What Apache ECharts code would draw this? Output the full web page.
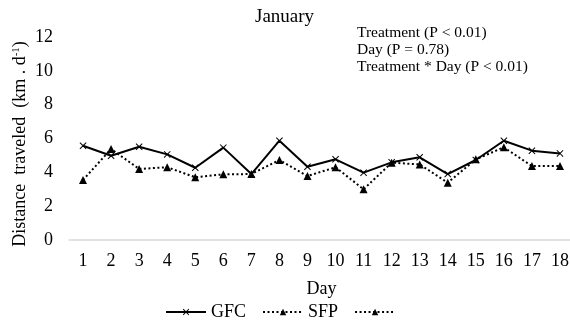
<!DOCTYPE html>
<html>
<head>
<meta charset="utf-8">
<script src="https://cdn.jsdelivr.net/npm/echarts@6/dist/echarts.min.js"></script>
<style>
  html, body { margin: 0; padding: 0; background: #fff; }
  #chart { width: 570px; height: 332px; }
</style>
</head>
<body>
<div id="chart"></div>
<script>
// Daily distance traveled in January, two treatments
const days = ['1','2','3','4','5','6','7','8','9','10','11','12','13','14','15','16','17','18'];
const gfc = [5.57, 4.98, 5.51, 5.06, 4.27, 5.46, 3.90, 5.87, 4.33, 4.77, 3.98, 4.59, 4.89, 3.90, 4.73, 5.87, 5.28, 5.12];
const sfp = [3.55, 5.38, 4.20, 4.30, 3.71, 3.88, 3.90, 4.73, 3.78, 4.30, 3.00, 4.57, 4.47, 3.39, 4.77, 5.48, 4.37, 4.37];
const yTicks = { min: 0, max: 12, interval: 2 };
const statLines = ['Treatment (P < 0.01)', 'Day (P = 0.78)', 'Treatment * Day (P < 0.01)'];

const FONT = '"Liberation Serif", "Times New Roman", serif';
const crossPath = 'path://M1,0 L5,4 L9,0 L10,1 L6,5 L10,9 L9,10 L5,6 L1,10 L0,9 L4,5 L0,1 Z';
const dotted = [2, 2.5];

const chart = echarts.init(document.getElementById('chart'), null, { renderer: 'canvas' });
chart.setOption({
  animation: false,
  backgroundColor: '#fff',
  textStyle: { fontFamily: FONT, color: '#000' },
  title: {
    text: 'January',
    left: 250,
    top: 3,
    textStyle: { fontFamily: FONT, fontSize: 19, fontWeight: 'normal', color: '#000' }
  },
  graphic: [
    {
      type: 'text',
      left: 357,
      top: 24,
      style: {
        text: statLines.join('\n'),
        font: '15.5px ' + FONT,
        lineHeight: 17,
        fill: '#000'
      }
    },
    {
      // vertical axis title with superscript unit
      type: 'text',
      x: 20,
      y: 144,
      rotation: Math.PI / 2,
      style: {
        text: 'Distance  traveled  (km . d{sup|-1})',
        font: '18px ' + FONT,
        fill: '#000',
        align: 'center',
        verticalAlign: 'middle',
        rich: {
          sup: { font: '11px ' + FONT, fill: '#000', verticalAlign: 'top', padding: [0, 0, 7, 0] }
        }
      }
    }
  ],
  legend: {
    bottom: 6,
    left: 160,
    itemWidth: 40,
    itemHeight: 8,
    itemGap: 16,
    data: ['GFC', 'SFP', ' '],
    textStyle: { fontFamily: FONT, fontSize: 18, color: '#000' }
  },
  grid: { left: 69, right: -4, top: 37, bottom: 92, outerBoundsMode: 'none' },
  xAxis: {
    type: 'category',
    data: days,
    name: 'Day',
    nameLocation: 'middle',
    nameGap: 40,
    nameTextStyle: { fontFamily: FONT, fontSize: 18, color: '#000' },
    axisLine: { lineStyle: { color: '#d9d9d9', width: 1.5 } },
    axisTick: { show: false },
    axisLabel: { fontFamily: FONT, fontSize: 18, color: '#000', margin: 12 }
  },
  yAxis: {
    type: 'value',
    min: yTicks.min,
    max: yTicks.max,
    interval: yTicks.interval,
    axisLine: { show: false },
    axisTick: { show: false },
    splitLine: { show: false },
    axisLabel: { fontFamily: FONT, fontSize: 18, color: '#000', margin: 16 }
  },
  series: [
    {
      name: 'GFC',
      type: 'line',
      data: gfc,
      symbol: crossPath,
      symbolSize: 7,
      itemStyle: { color: '#000' },
      lineStyle: { color: '#000', width: 2 }
    },
    {
      name: 'SFP',
      type: 'line',
      data: sfp,
      symbol: 'triangle',
      symbolSize: 8,
      itemStyle: { color: '#000' },
      lineStyle: { color: '#000', width: 2, type: dotted }
    },
    {
      name: ' ',
      type: 'line',
      data: [],
      symbol: 'triangle',
      symbolSize: 8,
      itemStyle: { color: '#000' },
      lineStyle: { color: '#000', width: 2, type: dotted }
    }
  ]
});
</script>
</body>
</html>
